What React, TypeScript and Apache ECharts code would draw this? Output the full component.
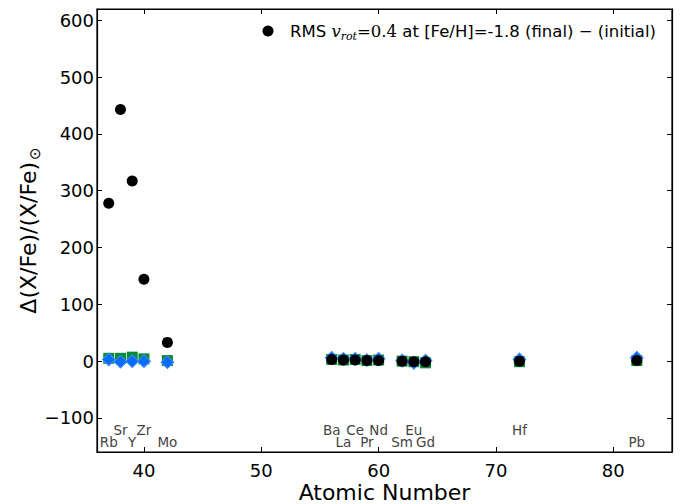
import React, { useEffect, useRef } from "react";
import * as echarts from "echarts";

const elements = ["Rb", "Sr", "Y", "Zr", "Mo", "Ba", "La", "Ce", "Pr", "Nd", "Sm", "Eu", "Gd", "Hf", "Pb"];
const atomicNumbers = [37, 38, 39, 40, 42, 56, 57, 58, 59, 60, 62, 63, 64, 72, 82];
const rmsDiff = [278, 443, 317, 144, 33, 3, 2, 2, 1, 1, 0, -1, -1, 0, 1];
const greenValues = [5, 5, 7, 4, 1, 3, 2, 3, 1, 2, 0, -1, -3, -1, 1];
const blueValues = [3, -1, 0, 0, -2, 6, 4, 4, 2, 4, 1, -3, 1, 3, 6];
const labelRowValues = [-142, -121];
const xTicks = [40, 50, 60, 70, 80];
const yTicks = [-100, 0, 100, 200, 300, 400, 500, 600];

const FONT = "DejaVu Sans";

export default function App() {
  const ref = useRef<HTMLDivElement>(null);
  useEffect(() => {
    if (!ref.current) return;
    const chart = echarts.init(ref.current, null, { renderer: "svg" });
    const pts = (vals: number[]) => atomicNumbers.map((x, i) => [x, vals[i]]);
    const labelData = atomicNumbers.map((x, i) => ({
      value: [x, labelRowValues[i % 2 === 0 ? 0 : 1]],
      name: elements[i],
    }));
    const fmtY = (v: number) => (v < 0 ? "\u2212" + Math.abs(v) : String(v));
    chart.setOption({
      animation: false,
      grid: {
        left: 97, right: 11, top: 9, bottom: 52, show: true, borderColor: "#000", borderWidth: 1.2,
        backgroundColor: "transparent", outerBoundsMode: "none", containLabel: false,
      },
      xAxis: [
        {
          type: "value", min: 36, max: 85, position: "bottom",
          name: "Atomic Number", nameLocation: "middle", nameGap: 28, nameMoveOverlap: false,
          nameTextStyle: { fontFamily: FONT, fontSize: 22, color: "#000", lineHeight: 24 },
          axisLine: { show: true, onZero: false, lineStyle: { color: "#000", width: 1.2 } },
          axisTick: { show: true, inside: true, length: 5, customValues: xTicks, lineStyle: { color: "#000" } },
          axisLabel: { show: true, customValues: xTicks, fontFamily: FONT, fontSize: 18, color: "#000", margin: 9, lineHeight: 18 },
          splitLine: { show: false },
        },
        {
          type: "value", min: 36, max: 85, position: "top",
          axisLine: { show: true, onZero: false, lineStyle: { color: "#000", width: 1.2 } },
          axisTick: { show: true, inside: true, length: 5, customValues: xTicks, lineStyle: { color: "#000" } },
          axisLabel: { show: false },
          splitLine: { show: false },
        },
      ],
      yAxis: [
        {
          type: "value", min: -160, max: 620, position: "left",
          name: "{a|\u0394(X/Fe)/(X/Fe)}{b|\u2299}", nameLocation: "middle", nameGap: 55, nameRotate: 90, nameMoveOverlap: false,
          nameTextStyle: {
            fontFamily: FONT, fontSize: 22, color: "#000",
            rich: {
              a: { fontFamily: FONT, fontSize: 22, color: "#000", lineHeight: 28 },
              b: { fontFamily: FONT, fontSize: 15, color: "#000", lineHeight: 28, verticalAlign: "bottom", padding: [8, 0, 0, 2] },
            },
          },
          axisLine: { show: true, onZero: false, lineStyle: { color: "#000", width: 1.2 } },
          axisTick: { show: true, inside: true, length: 5, customValues: yTicks, lineStyle: { color: "#000" } },
          axisLabel: { show: true, customValues: yTicks, fontFamily: FONT, fontSize: 18, color: "#000", margin: 3, formatter: fmtY },
          splitLine: { show: false },
        },
        {
          type: "value", min: -160, max: 620, position: "right",
          axisLine: { show: true, onZero: false, lineStyle: { color: "#000", width: 1.2 } },
          axisTick: { show: true, inside: true, length: 5, customValues: yTicks, lineStyle: { color: "#000" } },
          axisLabel: { show: false },
          splitLine: { show: false },
        },
      ],
      series: [
        {
          type: "scatter", data: pts(greenValues), symbol: "rect", symbolSize: 11,
          itemStyle: { color: "#0c8a36", opacity: 1 }, silent: true, z: 2,
        },
        {
          type: "scatter", data: pts(blueValues), symbol: "rect", symbolSize: 9, symbolRotate: 45,
          itemStyle: { color: "#0a6bf5", borderColor: "#3a8cff", borderWidth: 1, opacity: 1 }, silent: true, z: 3,
        },
        {
          type: "scatter", data: pts(rmsDiff), symbol: "circle", symbolSize: 11,
          itemStyle: { color: "#000", opacity: 1 }, silent: true, z: 4,
        },
        {
          type: "scatter", data: labelData, symbolSize: 1, itemStyle: { color: "transparent", opacity: 1 }, silent: true, z: 5,
          labelLayout: { hideOverlap: false },
          label: {
            show: true, position: "inside", formatter: (p: any) => p.name,
            fontFamily: FONT, fontSize: 13.5, color: "#444", opacity: 1,
          },
        },
      ],
      graphic: [
        { type: "circle", shape: { cx: 268, cy: 31, r: 5.5 }, style: { fill: "#000" } },
        {
          type: "text", x: 290, y: 31,
          style: {
            text: "{a|RMS }{v|v}{s|rot}{m|=0.4}{a| at [Fe/H]=-1.8 (final) }{m|\u2212}{a| (initial)}",
            verticalAlign: "middle",
            rich: {
              a: { fontFamily: FONT, fontSize: 16.5, fill: "#000", lineHeight: 22 },
              v: { fontFamily: "DejaVu Serif", fontStyle: "italic", fontSize: 16.5, fill: "#000", lineHeight: 22 },
              s: { fontFamily: "DejaVu Serif", fontStyle: "italic", fontSize: 11, fill: "#000", lineHeight: 22, verticalAlign: "bottom", padding: [6, 0, 0, 0] },
              m: { fontFamily: "DejaVu Serif", fontSize: 16.5, fill: "#000", lineHeight: 22 },
            },
          },
        },
      ],
    });
    return () => chart.dispose();
  }, []);
  return <div ref={ref} style={{ width: 683, height: 504, position: "absolute", left: 0, top: 0 }} />;
}
